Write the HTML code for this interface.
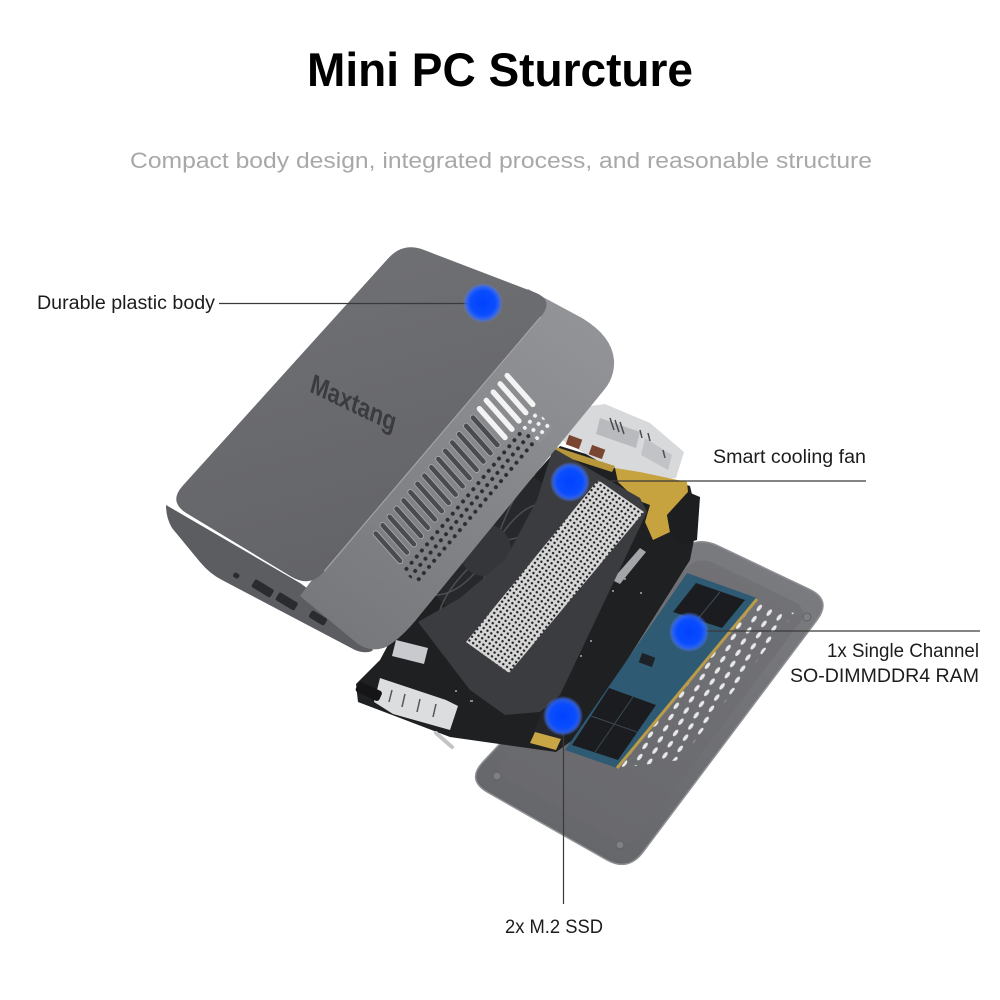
<!DOCTYPE html>
<html>
<head>
<meta charset="utf-8">
<style>
html,body{margin:0;padding:0;background:#fff;}
svg{display:block;}
text{font-family:"Liberation Sans",Arial,sans-serif;}
</style>
</head>
<body>
<svg width="1000" height="1000" viewBox="0 0 1000 1000" xmlns="http://www.w3.org/2000/svg">
<defs>
  <radialGradient id="bd" cx="0.5" cy="0.5" r="0.5">
    <stop offset="0" stop-color="#0042ff"/>
    <stop offset="0.62" stop-color="#0a4dff"/>
    <stop offset="0.82" stop-color="#2a63ff" stop-opacity="0.85"/>
    <stop offset="1" stop-color="#5a86ff" stop-opacity="0"/>
  </radialGradient>
  <linearGradient id="topG" x1="0" y1="0" x2="0.3" y2="1">
    <stop offset="0" stop-color="#717276"/>
    <stop offset="1" stop-color="#636468"/>
  </linearGradient>
  <linearGradient id="sideG" x1="0.8" y1="0" x2="0.2" y2="1">
    <stop offset="0" stop-color="#939498"/>
    <stop offset="1" stop-color="#77787c"/>
  </linearGradient>
  <linearGradient id="plateG" x1="0.8" y1="0" x2="0.2" y2="1">
    <stop offset="0" stop-color="#7b7c80"/>
    <stop offset="1" stop-color="#646569"/>
  </linearGradient>
  <pattern id="perf" width="4.6" height="4.6" patternUnits="userSpaceOnUse" patternTransform="translate(600,482) rotate(35)">
    <rect width="4.6" height="4.6" fill="#d6d6d6"/>
    <circle cx="2.3" cy="2.3" r="1.2" fill="#1c1c1e"/>
  </pattern>
  <pattern id="holes" width="8" height="16" patternUnits="userSpaceOnUse" patternTransform="translate(520,390) rotate(130)">
    <circle cx="2" cy="4" r="2" fill="#2c2d30"/>
    <circle cx="6" cy="12" r="2" fill="#2c2d30"/>
  </pattern>
  <pattern id="holesW" width="8" height="16" patternUnits="userSpaceOnUse" patternTransform="translate(520,390) rotate(130)">
    <circle cx="2" cy="4" r="2" fill="#f2f2f2"/>
    <circle cx="6" cy="12" r="2" fill="#f2f2f2"/>
  </pattern>
  <pattern id="dash" width="11" height="12.4" patternUnits="userSpaceOnUse" patternTransform="translate(757,600) rotate(25.4)">
    <ellipse cx="5.5" cy="6.2" rx="1.8" ry="3.9" fill="#e8e8ea" transform="rotate(12 5.5 6.2)"/>
  </pattern>
</defs>

<!-- Title -->
<text x="500" y="86" text-anchor="middle" font-size="47" font-weight="bold" fill="#000" textLength="386" lengthAdjust="spacingAndGlyphs">Mini PC Sturcture</text>
<text x="501" y="168" text-anchor="middle" font-size="22" fill="#a8a8a8" textLength="742" lengthAdjust="spacingAndGlyphs">Compact body design, integrated process, and reasonable structure</text>

<!-- Bottom plate -->
<path d="M717.6,545.7 L809.4,589.3 Q832,600 817,620 L643,852 Q628,872 606.3,859.6 L487.8,792.4 Q466,780 483.1,761.8 L677.9,553.3 Q695,535 717.6,545.7Z" fill="url(#plateG)" stroke="#8e8f93" stroke-width="1.5"/>
<path d="M718,565 L795,602 Q808,610 800,622 L640,835 Q630,848 616,840 L505,778 Q492,770 502,758 L690,565 Q702,556 718,565Z" fill="#6b6c70" opacity="0.55"/>
<circle cx="807" cy="617" r="4" fill="#7f8084" stroke="#5e5f63" stroke-width="1"/>
<circle cx="497" cy="776" r="4" fill="#7f8084" stroke="#5e5f63" stroke-width="1"/>
<circle cx="620" cy="845" r="4" fill="#7f8084" stroke="#5e5f63" stroke-width="1"/>
<!-- plate vents -->
<polygon points="750,600 794,613 680,760 620,768" fill="url(#dash)"/>

<!-- Black PCB -->
<polygon points="395,632 560,446 690,486 698,520 690,560 580,735 556,752 450,737 358,702 356,684 380,660" fill="#1f2022"/>
<g fill="#8a8a8a">
  <rect x="600" y="600" width="2" height="2"/><rect x="612" y="590" width="2" height="2"/><rect x="624" y="578" width="2" height="2"/>
  <rect x="590" y="640" width="2" height="2"/><rect x="580" y="655" width="2" height="2"/><rect x="640" y="592" width="2" height="2"/>
  <rect x="470" y="700" width="3" height="2"/><rect x="490" y="690" width="3" height="2"/><rect x="455" y="690" width="2" height="2"/>
</g>
<!-- clip -->
<polygon points="612,580 640,548 646,552 620,584" fill="#a4a5a8"/>

<!-- RAM -->
<polygon points="687,573 757,598 617,768 565,750" fill="#2f5a74"/>
<polygon points="696,583 745,600 722,628 673,612" fill="#1b1c1f"/>
<line x1="720" y1="592" x2="697" y2="620" stroke="#3a4a55" stroke-width="1"/>
<polygon points="609,688 656,705 618,760 572,745" fill="#1b1c1f"/>
<line x1="633" y1="697" x2="595" y2="752" stroke="#3a4a55" stroke-width="1"/>
<line x1="591" y1="716" x2="637" y2="732" stroke="#3a4a55" stroke-width="1"/>
<rect x="640" y="655" width="14" height="10" fill="#1e2226" transform="rotate(20 647 660)"/>
<line x1="757" y1="599" x2="617" y2="768" stroke="#b99b48" stroke-width="3"/>
<!-- SSD -->
<polygon points="545,705 575,712 560,742 533,735" fill="#24262a"/>
<polygon points="535,732 561,739 556,750 530,743" fill="#c9a645"/>

<!-- Fan behind body -->
<circle cx="495" cy="545" r="78" fill="#27282b"/>
<g stroke="#4d4e52" stroke-width="1.5" fill="none">
  <path d="M495,545 Q525,495 555,505"/><path d="M495,545 Q540,525 555,555"/>
  <path d="M495,545 Q515,595 495,615"/><path d="M495,545 Q465,595 435,595"/>
  <path d="M495,545 Q535,565 535,595"/><path d="M495,545 Q515,485 535,475"/>
  <path d="M495,545 Q450,580 440,610"/><path d="M495,545 Q480,600 460,615"/>
</g>
<circle cx="485" cy="550" r="26" fill="#353639"/>

<!-- Top ports cluster -->
<polygon points="583,407 605,404 650,423 684,452 676,478 650,482 600,462 563,441 568,425" fill="#d8d9db"/>
<polygon points="600,418 640,432 636,448 596,434" fill="#b9babd"/>
<polygon points="645,438 672,455 668,470 641,455" fill="#c2c3c6"/>
<g stroke="#4a4b50" stroke-width="1.5">
  <line x1="610" y1="418" x2="614" y2="430"/><line x1="615" y1="420" x2="619" y2="432"/><line x1="620" y1="422" x2="624" y2="434"/>
  <line x1="640" y1="430" x2="642" y2="438"/><line x1="648" y1="433" x2="650" y2="441"/><line x1="663" y1="450" x2="665" y2="458"/>
</g>
<rect x="567" y="437" width="14" height="10" fill="#7a4632" transform="rotate(20 574 442)"/>
<rect x="590" y="447" width="14" height="10" fill="#7a4632" transform="rotate(20 597 452)"/>
<!-- gold bracket -->
<polygon points="615,468 640,472 687,482 688,492 667,515 670,532 653,540 645,522 650,505 637,500 618,482" fill="#c7a33f"/>
<polygon points="556,447 615,466 612,472 556,454" fill="#b8963c"/>
<polygon points="688,492 700,497 697,540 680,545 670,532 667,515" fill="#1d1e20"/>

<!-- Heatsink plate -->
<polygon points="553,448 640,498 647,512 560,695 540,712 505,715 470,690 418,622 460,598 505,560 537,500" fill="#3b3c40"/>
<!-- Perforated panel -->
<polygon points="598,480 644,512 509,673 466,642" fill="url(#perf)"/>

<!-- Bottom-left ports -->
<polygon points="396,640 428,648 424,664 392,656" fill="#c9cacd"/>
<polygon points="380,678 446,700 458,706 450,730 393,714 374,702" fill="#dcdddf"/>
<g stroke="#55565a" stroke-width="1.5">
  <line x1="392" y1="690" x2="389" y2="702"/><line x1="405" y1="694" x2="402" y2="707"/><line x1="420" y1="699" x2="417" y2="712"/><line x1="436" y1="704" x2="433" y2="717"/>
</g>
<rect x="356" y="686" width="26" height="11" rx="3" fill="#151517" transform="rotate(25 369 691)"/>
<line x1="436" y1="733" x2="452" y2="747" stroke="#c4c4c6" stroke-width="4" stroke-linecap="round"/>

<!-- Body: front face -->
<path d="M166,505 L300,583 L378,640 L372,651 Q365,654 355,650 L222,580 Q210,574 200,562 L172,528 Q166,518 166,505 Z" fill="#5c5d61"/>
<g fill="#2a2b2e">
  <rect x="252" y="584" width="22" height="9" rx="2" transform="rotate(31 263 588)"/>
  <rect x="276" y="597" width="22" height="9" rx="2" transform="rotate(31 287 601)"/>
  <rect x="309" y="614" width="18" height="8" rx="2" transform="rotate(31 318 618)"/>
  <rect x="233" y="573" width="6" height="5" rx="2" transform="rotate(31 236 576)"/>
</g>
<!-- side face -->
<path d="M528,289 L582,318 Q612,336 614,360 Q615,377 604,390 L420,615 Q402,638 386,647 Q372,653 358,644 L300,596 Z" fill="url(#sideG)"/>
<!-- slots -->
<g>
  <g fill="#f3f3f3">
    <rect x="-22" y="-2.7" width="44" height="5.4" rx="2.7" transform="translate(520,390) rotate(48.4)"/>
    <rect x="-22" y="-2.7" width="44" height="5.4" rx="2.7" transform="translate(513,398.3) rotate(48.4)"/>
    <rect x="-22" y="-2.7" width="44" height="5.4" rx="2.7" transform="translate(506.1,406.5) rotate(48.4)"/>
    <rect x="-22" y="-2.7" width="44" height="5.4" rx="2.7" transform="translate(499.1,414.8) rotate(48.4)"/>
    <rect x="-22" y="-2.7" width="44" height="5.4" rx="2.7" transform="translate(492.2,423.1) rotate(48.4)"/>
  </g>
  <g fill="#4a4b4f" stroke="#a9aaae" stroke-width="0.8">
    <rect x="-21" y="-2.7" width="42" height="5.4" rx="2.7" transform="translate(485.2,431.4) rotate(48.4)"/>
    <rect x="-21" y="-2.7" width="42" height="5.4" rx="2.7" transform="translate(478.3,439.6) rotate(48.4)"/>
    <rect x="-21" y="-2.7" width="42" height="5.4" rx="2.7" transform="translate(471.3,447.9) rotate(48.4)"/>
    <rect x="-21" y="-2.7" width="42" height="5.4" rx="2.7" transform="translate(464.4,456.2) rotate(48.4)"/>
    <rect x="-21" y="-2.7" width="42" height="5.4" rx="2.7" transform="translate(457.4,464.5) rotate(48.4)"/>
    <rect x="-21" y="-2.7" width="42" height="5.4" rx="2.7" transform="translate(450.5,472.7) rotate(48.4)"/>
    <rect x="-21" y="-2.7" width="42" height="5.4" rx="2.7" transform="translate(443.5,481) rotate(48.4)"/>
    <rect x="-21" y="-2.7" width="42" height="5.4" rx="2.7" transform="translate(436.5,489.3) rotate(48.4)"/>
    <rect x="-21" y="-2.7" width="42" height="5.4" rx="2.7" transform="translate(429.6,497.5) rotate(48.4)"/>
    <rect x="-21" y="-2.7" width="42" height="5.4" rx="2.7" transform="translate(422.6,505.8) rotate(48.4)"/>
    <rect x="-21" y="-2.7" width="42" height="5.4" rx="2.7" transform="translate(415.7,514.1) rotate(48.4)"/>
    <rect x="-21" y="-2.7" width="42" height="5.4" rx="2.7" transform="translate(408.7,522.4) rotate(48.4)"/>
    <rect x="-21" y="-2.7" width="42" height="5.4" rx="2.7" transform="translate(401.8,530.6) rotate(48.4)"/>
    <rect x="-21" y="-2.7" width="42" height="5.4" rx="2.7" transform="translate(394.8,538.9) rotate(48.4)"/>
    <rect x="-21" y="-2.7" width="42" height="5.4" rx="2.7" transform="translate(387.9,547.2) rotate(48.4)"/>
  </g>
</g>
<!-- holes -->
<polygon points="530,416 548,431 420,586 402,571" fill="url(#holes)"/>
<polygon points="536,411 554,427 540,443 522,428" fill="#8e8f93"/>
<polygon points="536,411 554,427 540,443 522,428" fill="url(#holesW)"/>

<!-- top face -->
<path d="M423.5,249.8 L534.4,292.2 Q555,300 540.7,316.8 L324.3,571.2 Q310,588 291.2,576.6 L186.8,513.4 Q168,502 182.7,485.7 L388.3,258.3 Q403,242 423.5,249.8 Z" fill="url(#topG)"/>
<path d="M540.7,316.8 L324.3,571.2" stroke="#a2a3a7" stroke-width="1.2" fill="none"/>
<!-- logo -->
<text transform="matrix(0.9,0.43,-0.1,1,310,392)" font-size="28" font-weight="bold" font-style="italic" fill="#3a3b3f" textLength="94" lengthAdjust="spacingAndGlyphs">Maxtang</text>

<!-- Connector lines -->
<g stroke="#3a3a3a" stroke-width="1.2">
  <line x1="219" y1="303.5" x2="483" y2="303.5"/>
  <line x1="570" y1="481" x2="866" y2="481"/>
  <line x1="689" y1="631" x2="980" y2="631"/>
  <line x1="563.5" y1="716" x2="563.5" y2="904"/>
</g>
<!-- Blue dots -->
<circle cx="483" cy="303" r="20" fill="url(#bd)"/>
<circle cx="570" cy="482" r="20" fill="url(#bd)"/>
<circle cx="689" cy="632" r="20" fill="url(#bd)"/>
<circle cx="563" cy="716" r="20" fill="url(#bd)"/>

<!-- Labels -->
<g fill="#1c1c1c" font-size="19">
  <text x="37" y="309" textLength="178" lengthAdjust="spacingAndGlyphs">Durable plastic body</text>
  <text x="713" y="463" textLength="153" lengthAdjust="spacingAndGlyphs">Smart cooling fan</text>
  <text x="979" y="657" text-anchor="end" textLength="152" lengthAdjust="spacingAndGlyphs">1x Single Channel</text>
  <text x="979" y="682" text-anchor="end" textLength="189" lengthAdjust="spacingAndGlyphs">SO-DIMMDDR4 RAM</text>
  <text x="505" y="933" textLength="98" lengthAdjust="spacingAndGlyphs">2x M.2 SSD</text>
</g>
</svg>
</body>
</html>
